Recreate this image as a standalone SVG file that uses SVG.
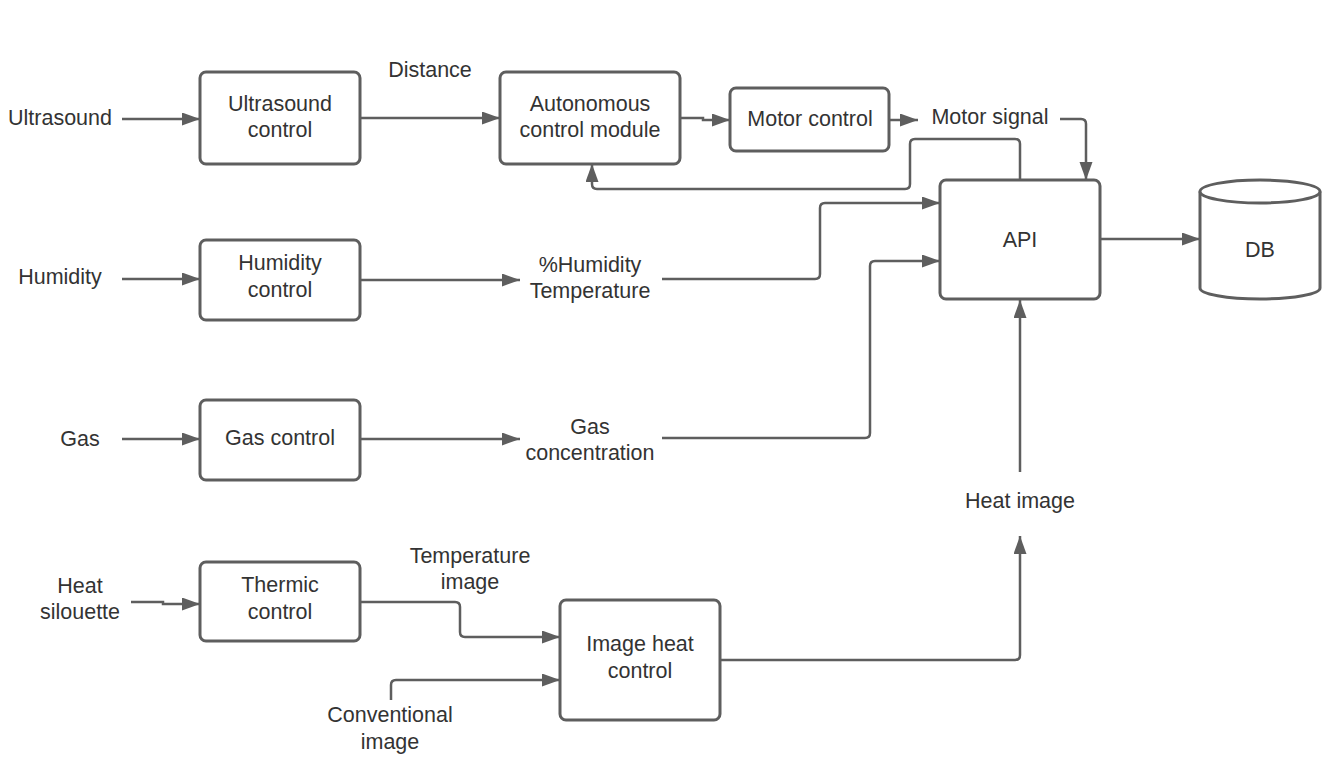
<svg xmlns="http://www.w3.org/2000/svg" width="1344" height="780" viewBox="0 0 1344 780">
<style>
.box{fill:#fff;stroke:#5e5e5e;stroke-width:3}
.ln{fill:none;stroke:#5e5e5e;stroke-width:2.5}
text{font-family:"Liberation Sans",Arial,sans-serif;font-size:21.5px;fill:#333;text-anchor:middle}
</style>
<defs>
<marker id="ah" markerUnits="userSpaceOnUse" markerWidth="20" markerHeight="14" refX="18" refY="6.5" orient="auto">
<path d="M0,0 L18,6.5 L0,13 z" fill="#5e5e5e"/>
</marker>
</defs>
<rect width="1344" height="780" fill="#fff"/>
<g id="connectors">
<path class="ln" marker-end="url(#ah)" d="M122,119 H200"/>
<path class="ln" marker-end="url(#ah)" d="M360,118 H500"/>
<path class="ln" marker-end="url(#ah)" d="M680,118 H703 V120 H730"/>
<path class="ln" marker-end="url(#ah)" d="M889,120 H918"/>
<path class="ln" marker-end="url(#ah)" d="M1060,119 H1081 Q1086,119 1086,124 V180"/>
<path class="ln" marker-end="url(#ah)" d="M1020,180 V144 Q1020,139 1015,139 H915 Q910,139 910,144 V184 Q910,189 905,189 H597 Q592,189 592,184 V164"/>
<path class="ln" marker-end="url(#ah)" d="M662,279 H815 Q820,279 820,274 V208 Q820,203 825,203 H940"/>
<path class="ln" marker-end="url(#ah)" d="M662,438 H865 Q870,438 870,433 V266 Q870,261 875,261 H940"/>
<path class="ln" marker-end="url(#ah)" d="M1020,472 V300"/>
<path class="ln" marker-end="url(#ah)" d="M1100,239 H1200"/>
<path class="ln" marker-end="url(#ah)" d="M122,279 H200"/>
<path class="ln" marker-end="url(#ah)" d="M360,280 H520"/>
<path class="ln" marker-end="url(#ah)" d="M122,439 H200"/>
<path class="ln" marker-end="url(#ah)" d="M360,439 H520"/>
<path class="ln" marker-end="url(#ah)" d="M131,602 H163 V604 H200"/>
<path class="ln" marker-end="url(#ah)" d="M360,602 H455 Q460,602 460,607 V632 Q460,637 465,637 H560"/>
<path class="ln" marker-end="url(#ah)" d="M391,700 V685 Q391,680 396,680 H560"/>
<path class="ln" marker-end="url(#ah)" d="M720,660 H1015 Q1020,660 1020,655 V536"/>
</g>
<g id="labels">
<text x="60" y="125">Ultrasound</text>
<text x="430" y="77">Distance</text>
<text x="990" y="124">Motor signal</text>
<text x="60" y="284">Humidity</text>
<text x="590" y="272">%Humidity</text>
<text x="590" y="298">Temperature</text>
<text x="80" y="446">Gas</text>
<text x="590" y="434">Gas</text>
<text x="590" y="460">concentration</text>
<text x="1020" y="508">Heat image</text>
<text x="80" y="593">Heat</text>
<text x="80" y="619">silouette</text>
<text x="470" y="563">Temperature</text>
<text x="470" y="589">image</text>
<text x="390" y="722">Conventional</text>
<text x="390" y="749">image</text>
</g>
<g id="ultrasound-control"><rect class="box" x="200" y="72" width="160" height="92" rx="6"/><text x="280" y="111">Ultrasound</text><text x="280" y="137">control</text></g>
<g id="autonomous-control"><rect class="box" x="500" y="72" width="180" height="92" rx="6"/><text x="590" y="111">Autonomous</text><text x="590" y="137">control module</text></g>
<g id="motor-control"><rect class="box" x="730" y="88" width="159" height="63" rx="6"/><text x="810" y="126">Motor control</text></g>
<g id="api"><rect class="box" x="940" y="180" width="160" height="119" rx="6"/><text x="1020" y="247">API</text></g>
<g id="db">
<path class="box" d="M1200,191.5 V288 A60,11 0 0 0 1320,288 V191.5"/>
<ellipse class="box" cx="1260" cy="191.5" rx="60" ry="11.5"/>
<text x="1260" y="257">DB</text>
</g>
<g id="humidity-control"><rect class="box" x="200" y="240" width="160" height="80" rx="6"/><text x="280" y="270">Humidity</text><text x="280" y="297">control</text></g>
<g id="gas-control"><rect class="box" x="200" y="400" width="160" height="80" rx="6"/><text x="280" y="445">Gas control</text></g>
<g id="thermic-control"><rect class="box" x="200" y="562" width="160" height="79" rx="6"/><text x="280" y="592">Thermic</text><text x="280" y="619">control</text></g>
<g id="image-heat-control"><rect class="box" x="560" y="600" width="160" height="120" rx="6"/><text x="640" y="651">Image heat</text><text x="640" y="678">control</text></g>
</svg>
